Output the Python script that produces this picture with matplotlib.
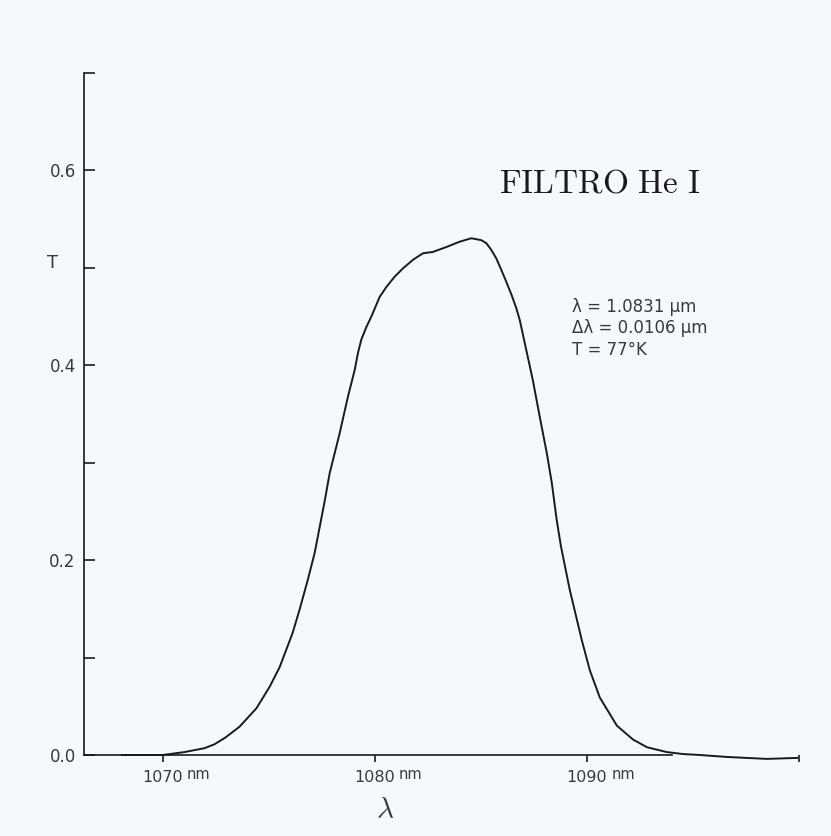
import numpy as np
import matplotlib
matplotlib.use("Agg")
import matplotlib.pyplot as plt

# transmission curve of the He I filter
wavelength_nm = [1068.1, 1070.0, 1071.04, 1071.98, 1072.45, 1072.97, 1073.63, 1074.43,
                 1075.05, 1075.52, 1076.13, 1076.46, 1076.84, 1077.17, 1077.41, 1077.64,
                 1077.88, 1078.35, 1078.74, 1079.06, 1079.21, 1079.37, 1079.61, 1079.84,
                 1080.24, 1080.55, 1080.94, 1081.33, 1081.81, 1082.28, 1082.75, 1083.38,
                 1084.01, 1084.56, 1085.03, 1085.27, 1085.50, 1085.74, 1085.98, 1086.21,
                 1086.45, 1086.68, 1086.84, 1087.08, 1087.45, 1087.78, 1088.11, 1088.35,
                 1088.58, 1088.78, 1089.20, 1089.76, 1090.14, 1090.61, 1091.42, 1092.17,
                 1092.83, 1093.77, 1094.53, 1095.33, 1096.60, 1098.49, 1099.91]
transmission = [0.0, 0.0, 0.003, 0.007, 0.011, 0.018, 0.029, 0.048,
                0.070, 0.090, 0.125, 0.149, 0.179, 0.207, 0.234, 0.260,
                0.289, 0.330, 0.3675, 0.395, 0.412, 0.426, 0.439, 0.4495,
                0.470, 0.480, 0.4905, 0.499, 0.508, 0.5146, 0.516, 0.521,
                0.5265, 0.530, 0.528, 0.5248, 0.518, 0.509, 0.497, 0.485,
                0.472, 0.458, 0.446, 0.422, 0.385, 0.347, 0.310, 0.279,
                0.241, 0.214, 0.169, 0.118, 0.087, 0.059, 0.030, 0.016,
                0.008, 0.003, 0.001, 0.0, -0.002, -0.004, -0.003]

x_ticks = [1070, 1080, 1090, 1100]
x_tick_labels = ["1070", "1080", "1090", ""]
y_ticks = [0.0, 0.1, 0.2, 0.3, 0.4, 0.5, 0.6, 0.7]
y_tick_labels = ["0.0", "", "0.2", "", "0.4", "", "0.6", ""]
filter_info = ["λ = 1.0831 μm", "Δλ = 0.0106 μm", "T = 77°K"]

plt.rcParams["font.family"] = ["DejaVu Sans"]
plt.rcParams["mathtext.fontset"] = "cm"

bg = "#f5f8fc"
ink = "#1a1a1a"
gray = "#3a3a3a"

fig = plt.figure(figsize=(8.31, 8.36), dpi=100, facecolor=bg)
ax = fig.add_axes([84 / 831, 61.5 / 836, 725.6 / 831, 721.5 / 836])
ax.set_facecolor(bg)

ax.plot(wavelength_nm, transmission, color=ink, lw=1.4)

ax.set_xlim(1066.3, 1100.5)
ax.set_ylim(-0.02, 0.72)

for s in ["top", "right"]:
    ax.spines[s].set_visible(False)
ax.spines["bottom"].set_position(("data", 0))
ax.spines["bottom"].set_bounds(1066.3, 1094.0)
ax.spines["left"].set_bounds(0, 0.7)
for s in ["left", "bottom"]:
    ax.spines[s].set_color(ink)
    ax.spines[s].set_linewidth(1.2)

ax.set_xticks(x_ticks, x_tick_labels)
ax.set_yticks(y_ticks, y_tick_labels)
ax.tick_params(axis="x", direction="out", length=5, width=1.2, color=ink,
               pad=6, labelsize=11.5, labelcolor=gray)
ax.tick_params(axis="y", direction="in", length=8, width=1.2, color=ink,
               pad=6, labelsize=12, labelcolor=gray)

# "nm" units next to the tick numbers
for v, lab in zip(x_ticks, x_tick_labels):
    if lab:
        ax.annotate("nm", xy=(v, 0), xycoords="data", xytext=(17.5, -17.5),
                    textcoords="offset points", ha="left", va="baseline",
                    fontsize=10.5, color=gray)

ax.set_xlabel(r"$\lambda$", fontsize=21, color=gray)
ax.xaxis.set_label_coords(0.415, -0.030)
ax.text(-0.043, 0.709, "T", transform=ax.transAxes, ha="center", va="center",
        fontsize=13, color=gray)

ax.text(0.711, 0.820, r"$\mathrm{FILTRO\ He\ I}$", transform=ax.transAxes,
        ha="center", va="center", fontsize=24, color=ink)

for i, line in enumerate(filter_info):
    ax.text(0.6726, 0.648 - i * 0.0298, line, transform=ax.transAxes,
            ha="left", va="center", fontsize=12, color=gray)

fig.savefig("out.png", dpi=100, facecolor=bg)
